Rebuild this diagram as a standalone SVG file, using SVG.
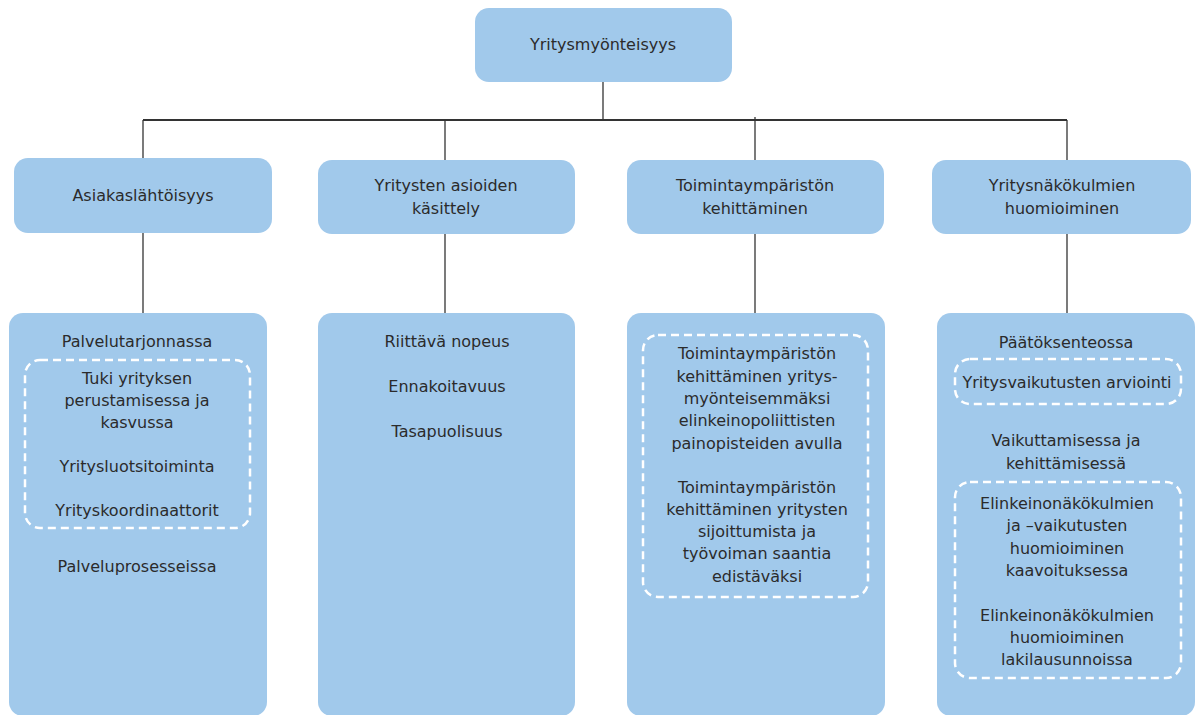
<svg xmlns="http://www.w3.org/2000/svg" width="1203" height="715" viewBox="0 0 1203 715">
<style>
.box{fill:#A1C9EB;stroke:none}
.dash{fill:none;stroke:#ffffff;stroke-width:2.5;stroke-dasharray:8 5}
.ln{stroke:#333333;stroke-width:1.3;fill:none}
text{font-family:"DejaVu Sans","Liberation Sans",sans-serif;font-size:16px;fill:#2b2b2b;text-anchor:middle}
</style>
<rect width="1203" height="715" fill="#ffffff"/>
<g id="connectors">
<line class="ln" x1="603" y1="82" x2="603" y2="120"/>
<line class="ln" x1="143" y1="120" x2="1067" y2="120" style="stroke-width:2"/>
<line class="ln" x1="143" y1="120" x2="143" y2="158"/>
<line class="ln" x1="445" y1="120" x2="445" y2="160"/>
<line class="ln" x1="755" y1="117" x2="755" y2="160"/>
<line class="ln" x1="1067" y1="120" x2="1067" y2="160"/>
<line class="ln" x1="143" y1="233" x2="143" y2="313"/>
<line class="ln" x1="445" y1="234" x2="445" y2="313"/>
<line class="ln" x1="755" y1="234" x2="755" y2="313"/>
<line class="ln" x1="1067" y1="234" x2="1067" y2="313"/>
</g>
<g id="root">
<rect class="box" x="475" y="8" width="257" height="74" rx="14"/>
<text x="603" y="50">Yritysmyönteisyys</text>
</g>
<g id="n1">
<rect class="box" x="14" y="158" width="258" height="75" rx="14"/>
<text x="143" y="201">Asiakaslähtöisyys</text>
</g>
<g id="n2">
<rect class="box" x="318" y="160" width="257" height="74" rx="14"/>
<text x="446" y="191">Yritysten asioiden</text>
<text x="446" y="214">käsittely</text>
</g>
<g id="n3">
<rect class="box" x="627" y="160" width="257" height="74" rx="14"/>
<text x="755" y="191">Toimintaympäristön</text>
<text x="755" y="214">kehittäminen</text>
</g>
<g id="n4">
<rect class="box" x="932" y="160" width="259" height="74" rx="14"/>
<text x="1062" y="191">Yritysnäkökulmien</text>
<text x="1062" y="214">huomioiminen</text>
</g>
<g id="d1">
<rect class="box" x="9" y="313" width="258" height="403" rx="14"/>
<text x="137" y="347">Palvelutarjonnassa</text>
<rect class="dash" x="25" y="360" width="225" height="168" rx="15"/>
<text x="137" y="384">Tuki yrityksen</text>
<text x="137" y="406">perustamisessa ja</text>
<text x="137" y="428">kasvussa</text>
<text x="137" y="472">Yritysluotsitoiminta</text>
<text x="137" y="516">Yrityskoordinaattorit</text>
<text x="137" y="572">Palveluprosesseissa</text>
</g>
<g id="d2">
<rect class="box" x="318" y="313" width="257" height="403" rx="14"/>
<text x="447" y="347">Riittävä nopeus</text>
<text x="447" y="392">Ennakoitavuus</text>
<text x="447" y="437">Tasapuolisuus</text>
</g>
<g id="d3">
<rect class="box" x="627" y="313" width="258" height="403" rx="14"/>
<rect class="dash" x="643" y="335" width="225" height="262" rx="15"/>
<text x="757" y="359">Toimintaympäristön</text>
<text x="757" y="382">kehittäminen yritys-</text>
<text x="757" y="404">myönteisemmäksi</text>
<text x="757" y="426">elinkeinopoliittisten</text>
<text x="757" y="449">painopisteiden avulla</text>
<text x="757" y="493">Toimintaympäristön</text>
<text x="757" y="515">kehittäminen yritysten</text>
<text x="757" y="537">sijoittumista ja</text>
<text x="757" y="559">työvoiman saantia</text>
<text x="757" y="582">edistäväksi</text>
</g>
<g id="d4">
<rect class="box" x="937" y="313" width="258" height="403" rx="14"/>
<text x="1066" y="348">Päätöksenteossa</text>
<rect class="dash" x="955" y="359" width="226" height="45" rx="15"/>
<text x="1067" y="388">Yritysvaikutusten arviointi</text>
<text x="1066" y="446">Vaikuttamisessa ja</text>
<text x="1066" y="469">kehittämisessä</text>
<rect class="dash" x="955" y="482" width="226" height="196" rx="15"/>
<text x="1067" y="509">Elinkeinonäkökulmien</text>
<text x="1067" y="531">ja –vaikutusten</text>
<text x="1067" y="554">huomioiminen</text>
<text x="1067" y="576">kaavoituksessa</text>
<text x="1067" y="621">Elinkeinonäkökulmien</text>
<text x="1067" y="643">huomioiminen</text>
<text x="1067" y="665">lakilausunnoissa</text>
</g>
</svg>
